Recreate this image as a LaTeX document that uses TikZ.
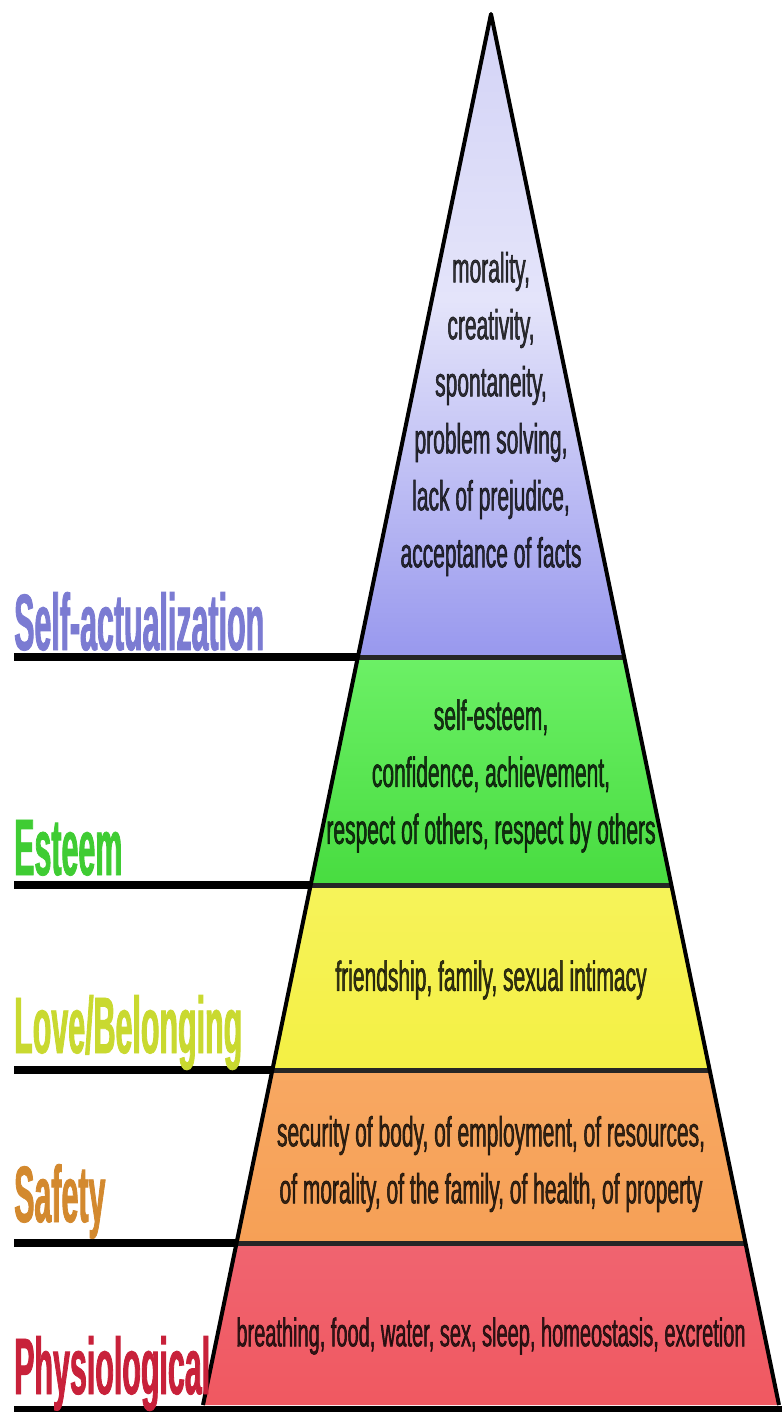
\documentclass[tikz,border=0pt]{standalone}
\usepackage{fontspec}
\setmainfont{Liberation Sans}
\newfontfamily\narrowfont[FakeStretch=0.5,FakeBold=1.2]{Liberation Sans}
\newfontfamily\levelfont[FakeStretch=0.38,FakeBold=1]{Liberation Sans Bold}
\definecolor{selfcol}{HTML}{7B7BD2}
\definecolor{esteemcol}{HTML}{3FCC33}
\definecolor{lovecol}{HTML}{C9D930}
\definecolor{safetycol}{HTML}{D3892E}
\definecolor{physcol}{HTML}{C8213A}
\definecolor{selftop}{HTML}{D2D2F6}
\definecolor{selfmid}{HTML}{E4E4FA}
\definecolor{selfbot}{HTML}{9898EE}
\definecolor{esttop}{HTML}{6CF066}
\definecolor{estmid}{HTML}{66EE60}
\definecolor{estbot}{HTML}{48DC40}
\definecolor{lovetop}{HTML}{F6F35A}
\definecolor{lovemid}{HTML}{F8F67E}
\definecolor{lovebot}{HTML}{F4F044}
\definecolor{safetop}{HTML}{F8A862}
\definecolor{safemid}{HTML}{F9B070}
\definecolor{safebot}{HTML}{F6A056}
\definecolor{phystop}{HTML}{F06470}
\definecolor{physmid}{HTML}{F67E84}
\definecolor{physbot}{HTML}{F05860}
\begin{document}
\begin{tikzpicture}[x=1pt,y=-1pt,
 level text/.style={font=\narrowfont\fontsize{42}{57}\selectfont,text=black,text opacity=0.78,align=center},
 level name/.style={anchor=base west,inner sep=0pt,font=\levelfont\fontsize{80}{80}\selectfont},
 rule/.style={line width=8pt}]

  \useasboundingbox (0,0) rectangle (782,1412);
  \coordinate (top) at (491,14);
  \coordinate (bl) at (203,1405);
  \coordinate (br) at (779,1405);

  % coloured levels
  \begin{scope}
   \clip (top) -- (bl) -- (br) -- cycle;
   \shade[top color=selftop, bottom color=selfmid] (150,0) rectangle (800,300);
   \shade[top color=selfmid, bottom color=selfbot] (150,300) rectangle (800,657);
   \foreach \ya/\yb/\c in {657/885/est, 885/1070/love, 1070/1243/safe, 1243/1412/phys} {
    \shade[top color=\c top, middle color=\c mid, bottom color=\c bot] (150,\ya) rectangle (800,\yb);}
  \end{scope}

  % rules
  \foreach \y in {657,885,1070,1243} {
   \pgfmathsetmacro\xl{491-0.2068*(\y-14)}
   \pgfmathsetmacro\xr{491+0.2068*(\y-14)}
   \draw[rule] (14,\y) -- (\xl,\y);
   \draw[line width=5pt,black!85] (\xl,\y) -- (\xr,\y);}
  \draw[line width=4pt,line join=round] (bl) -- (top) -- (br);
  \draw[line width=7pt] (14,1409) -- (782,1409);

  \node[level name,text=selfcol] (selfname) at (14,650) {Self-actualization};
  \node[level name,text=esteemcol] (esteemname) at (14,875) {Esteem};
  \node[level name,text=lovecol] (lovename) at (14,1053) {Love/Belonging};
  \node[level name,text=safetycol] (safetyname) at (14,1222) {Safety};
  \node[level name,text=physcol] (physname) at (14,1394) {Physiological};

  \node[level text] (selftext) at (491,414) {morality,\\creativity,\\spontaneity,\\problem solving,\\lack of prejudice,\\acceptance of facts};
  \node[level text] (esteemtext) at (491,776) {self-esteem,\\confidence, achievement,\\respect of others, respect by others};
  \node[level text] (lovetext) at (491,980) {friendship, family, sexual intimacy};
  \node[level text] (safetytext) at (491,1164) {security of body, of employment, of resources,\\of morality, of the family, of health, of property};
  \node[level text,font=\narrowfont\fontsize{40}{57}\selectfont] (phystext) at (491,1336) {breathing, food, water, sex, sleep, homeostasis, excretion};
\end{tikzpicture}
\end{document}
